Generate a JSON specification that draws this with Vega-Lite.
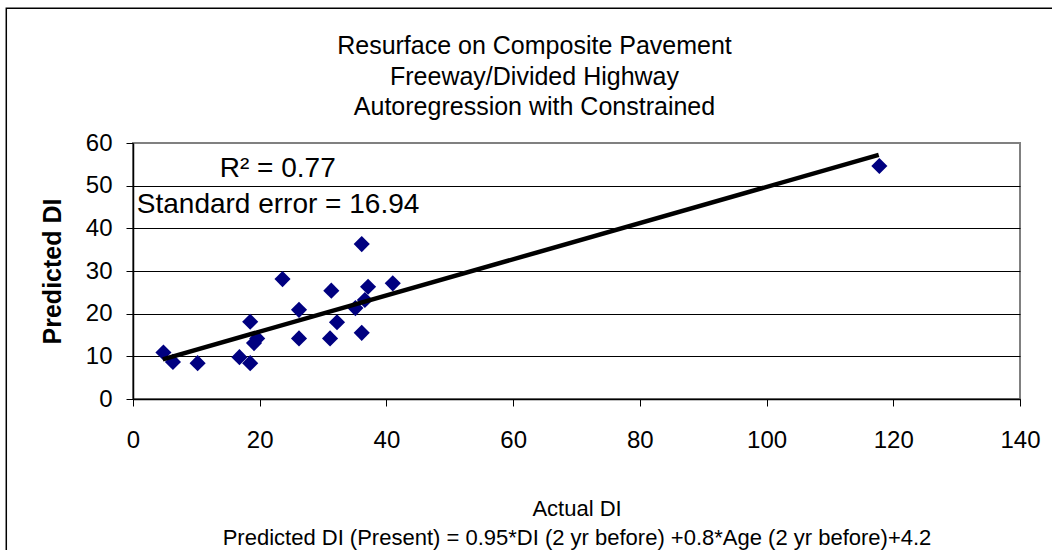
{
  "$schema": "https://vega.github.io/schema/vega-lite/v6.json",
  "width": 887,
  "height": 256,
  "autosize": {"type": "none"},
  "padding": {"left": 133, "top": 143, "right": 32, "bottom": 151},
  "background": "white",
  "config": {
    "font": "Liberation Sans",
    "view": {"stroke": "#808080", "strokeWidth": 2}
  },
  "title": {
    "text": ["Resurface on Composite Pavement", "Freeway/Divided Highway", "Autoregression with Constrained"],
    "fontSize": 25,
    "fontWeight": "normal",
    "font": "Liberation Sans",
    "color": "black",
    "lineHeight": 30.5,
    "anchor": "middle",
    "dx": -42,
    "offset": -113
  },
  "datasets": {
    "points": [
      {"actual": 4.8, "predicted": 10.9},
      {"actual": 6.3, "predicted": 8.7},
      {"actual": 10.2, "predicted": 8.4},
      {"actual": 16.8, "predicted": 9.8},
      {"actual": 18.5, "predicted": 8.4},
      {"actual": 18.5, "predicted": 18.1},
      {"actual": 19.6, "predicted": 14.2},
      {"actual": 19.1, "predicted": 13.1},
      {"actual": 23.6, "predicted": 28.1},
      {"actual": 26.2, "predicted": 20.9},
      {"actual": 26.2, "predicted": 14.2},
      {"actual": 31.3, "predicted": 25.4},
      {"actual": 31.1, "predicted": 14.2},
      {"actual": 32.2, "predicted": 18.0},
      {"actual": 35.1, "predicted": 21.3},
      {"actual": 36.6, "predicted": 23.2},
      {"actual": 36.1, "predicted": 36.3},
      {"actual": 37.1, "predicted": 26.3},
      {"actual": 36.1, "predicted": 15.5},
      {"actual": 41.0, "predicted": 27.1},
      {"actual": 117.8, "predicted": 54.6}
    ],
    "trend": [
      {"actual": 4.7, "predicted": 9.3},
      {"actual": 117.7, "predicted": 57.2}
    ]
  },
  "layer": [
    {
      "data": {"name": "points"},
      "mark": {"type": "point", "shape": "diamond", "filled": true, "color": "#000080", "size": 260, "opacity": 1},
      "encoding": {
        "x": {
          "field": "actual", "type": "quantitative",
          "scale": {"domain": [0, 140], "nice": false, "zero": false},
          "axis": {
            "title": ["Actual DI", "Predicted DI (Present) = 0.95*DI (2 yr before) +0.8*Age (2 yr before)+4.2"],
            "values": [0, 20, 40, 60, 80, 100, 120, 140],
            "grid": false,
            "domainColor": "black", "domainWidth": 1.5,
            "tickColor": "black", "tickSize": 7, "tickWidth": 1,
            "labelFontSize": 24, "labelColor": "black", "labelPadding": 22,
            "labelFlush": false, "labelOverlap": false,
            "titleFontSize": 22, "titleFontWeight": "normal", "titleColor": "black",
            "titleLineHeight": 29, "titlePadding": 46
          }
        },
        "y": {
          "field": "predicted", "type": "quantitative",
          "scale": {"domain": [0, 60], "nice": false, "zero": false},
          "axis": {
            "title": "Predicted DI",
            "values": [0, 10, 20, 30, 40, 50, 60],
            "grid": true,
            "gridColor": {"condition": {"test": "datum.value === 60", "value": "#808080"}, "value": "black"},
            "gridWidth": 1,
            "domainColor": "black", "domainWidth": 1.5,
            "tickColor": "black", "tickSize": 7, "tickWidth": 1,
            "labelFontSize": 24, "labelColor": "black", "labelPadding": 14,
            "titleFontSize": 25, "titleFontWeight": "bold", "titleColor": "black",
            "titlePadding": 20
          }
        }
      }
    },
    {
      "data": {"name": "trend"},
      "mark": {"type": "line", "color": "black", "strokeWidth": 4.5},
      "encoding": {
        "x": {"field": "actual", "type": "quantitative"},
        "y": {"field": "predicted", "type": "quantitative"}
      }
    },
    {
      "data": {"values": [{}]},
      "mark": {"type": "text", "text": "R² = 0.77", "align": "left", "baseline": "alphabetic", "fontSize": 28, "color": "black"},
      "encoding": {
        "x": {"datum": 13.7, "type": "quantitative"},
        "y": {"datum": 52.0, "type": "quantitative"}
      }
    },
    {
      "data": {"values": [{}]},
      "mark": {"type": "text", "text": "Standard error = 16.94", "align": "left", "baseline": "alphabetic", "fontSize": 28, "color": "black"},
      "encoding": {
        "x": {"datum": 0.6, "type": "quantitative"},
        "y": {"datum": 43.6, "type": "quantitative"}
      }
    },
    {
      "data": {"values": [{}]},
      "mark": {"type": "rect", "filled": false, "stroke": "black", "strokeWidth": 1.5, "clip": false},
      "encoding": {
        "x": {"datum": -20.0, "type": "quantitative"},
        "x2": {"datum": 150},
        "y": {"datum": 91.6, "type": "quantitative"},
        "y2": {"datum": -50}
      }
    }
  ]
}
